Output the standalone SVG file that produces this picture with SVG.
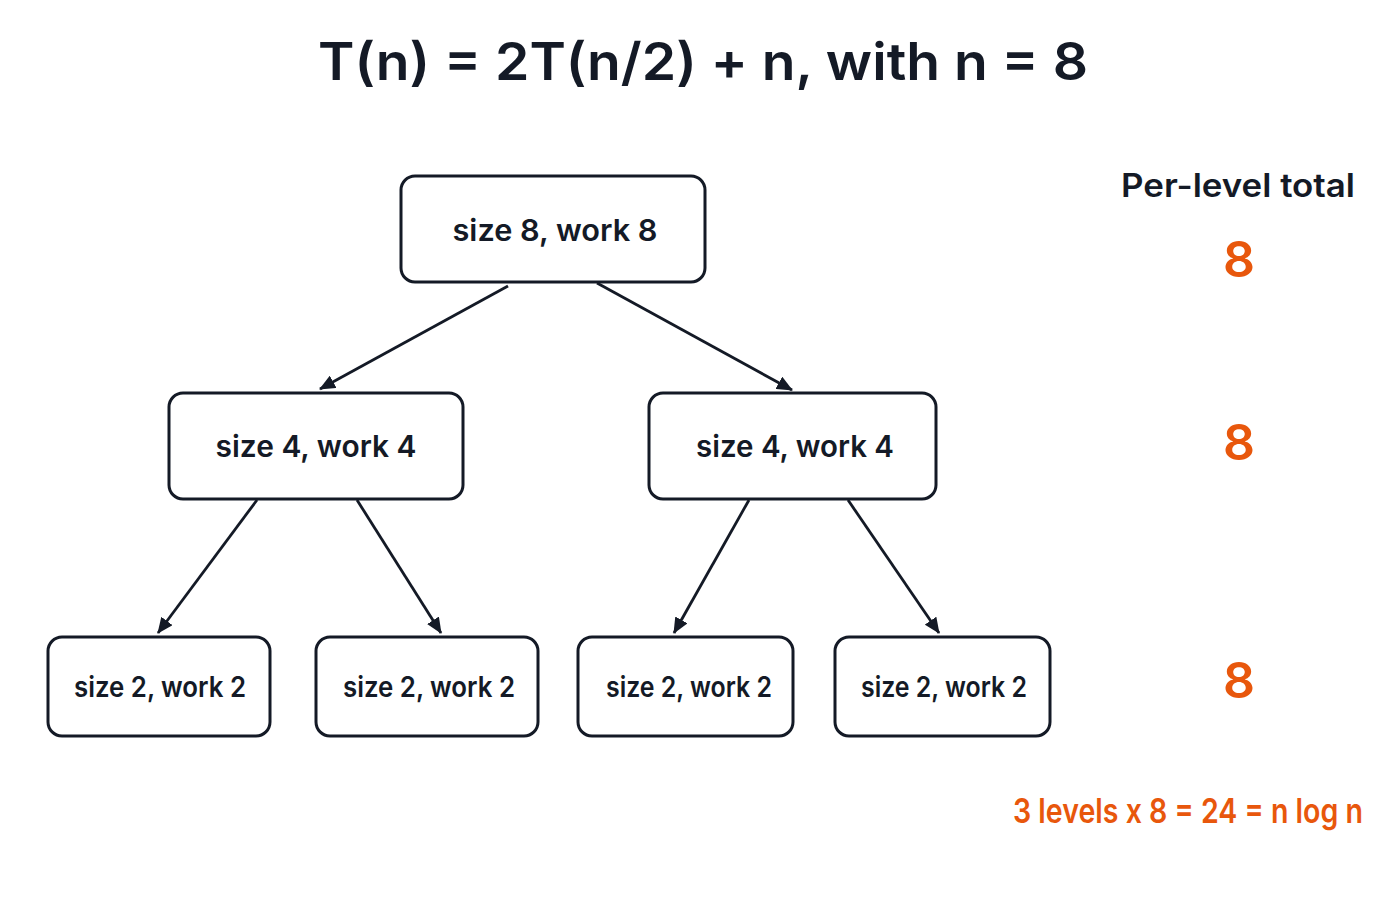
<svg xmlns="http://www.w3.org/2000/svg" width="1400" height="900" viewBox="0 0 1400 900">
<style>
.box{fill:#fff;stroke:#141a26;stroke-width:3}
.t{font-family:Inter,"Noto Sans",sans-serif;font-weight:600;fill:#141a26;text-anchor:middle}
.o{font-family:Inter,"Liberation Sans",sans-serif;font-weight:600;fill:#e8570c;text-anchor:middle}
.e{stroke:#141a26;stroke-width:2.8;fill:none;marker-end:url(#a)}
</style>
<defs><marker id="a" viewBox="0 0 16 14" refX="15" refY="7" markerWidth="16" markerHeight="14" orient="auto" markerUnits="userSpaceOnUse"><path d="M0,0 L16,7 L0,14 z" fill="#141a26"/></marker></defs>
<rect width="1400" height="900" fill="#fff"/>
<text class="t" x="703" y="80" font-size="52" font-weight="700" textLength="770" lengthAdjust="spacingAndGlyphs">T(n) = 2T(n/2) + n, with n = 8</text>
<text class="t" x="1238" y="197" font-size="32" textLength="234" lengthAdjust="spacingAndGlyphs">Per-level total</text>
<g font-size="50" font-weight="700"><text class="o" x="1239" y="277">8</text><text class="o" x="1239" y="460">8</text><text class="o" x="1239" y="698">8</text></g>
<text class="o" x="1188" y="823" font-size="34" textLength="350" lengthAdjust="spacingAndGlyphs">3 levels x 8 = 24 = n log n</text>
<g id="edges">
<line class="e" x1="508" y1="286" x2="320" y2="389"/>
<line class="e" x1="597" y1="283" x2="792" y2="390"/>
<line class="e" x1="257" y1="500" x2="158" y2="633"/>
<line class="e" x1="357" y1="500" x2="441" y2="633"/>
<line class="e" x1="749" y1="500" x2="674" y2="633"/>
<line class="e" x1="848" y1="500" x2="939" y2="633"/>
</g>
<g id="n1"><rect class="box" x="401" y="176" width="304" height="106" rx="14"/><text class="t" x="555" y="241" font-size="30" textLength="205" lengthAdjust="spacingAndGlyphs">size 8, work 8</text></g>
<g id="n2"><rect class="box" x="169" y="393" width="294" height="106" rx="14"/><text class="t" x="316" y="457" font-size="30" textLength="201" lengthAdjust="spacingAndGlyphs">size 4, work 4</text></g>
<g id="n3"><rect class="box" x="649" y="393" width="287" height="106" rx="14"/><text class="t" x="795" y="457" font-size="30" textLength="198" lengthAdjust="spacingAndGlyphs">size 4, work 4</text></g>
<g id="n4"><rect class="box" x="48" y="637" width="222" height="99" rx="14"/><text class="t" x="160" y="697" font-size="28" textLength="172" lengthAdjust="spacingAndGlyphs">size 2, work 2</text></g>
<g id="n5"><rect class="box" x="316" y="637" width="222" height="99" rx="14"/><text class="t" x="429" y="697" font-size="28" textLength="172" lengthAdjust="spacingAndGlyphs">size 2, work 2</text></g>
<g id="n6"><rect class="box" x="578" y="637" width="215" height="99" rx="14"/><text class="t" x="689" y="697" font-size="28" textLength="166" lengthAdjust="spacingAndGlyphs">size 2, work 2</text></g>
<g id="n7"><rect class="box" x="835" y="637" width="215" height="99" rx="14"/><text class="t" x="944" y="697" font-size="28" textLength="166" lengthAdjust="spacingAndGlyphs">size 2, work 2</text></g>
</svg>
